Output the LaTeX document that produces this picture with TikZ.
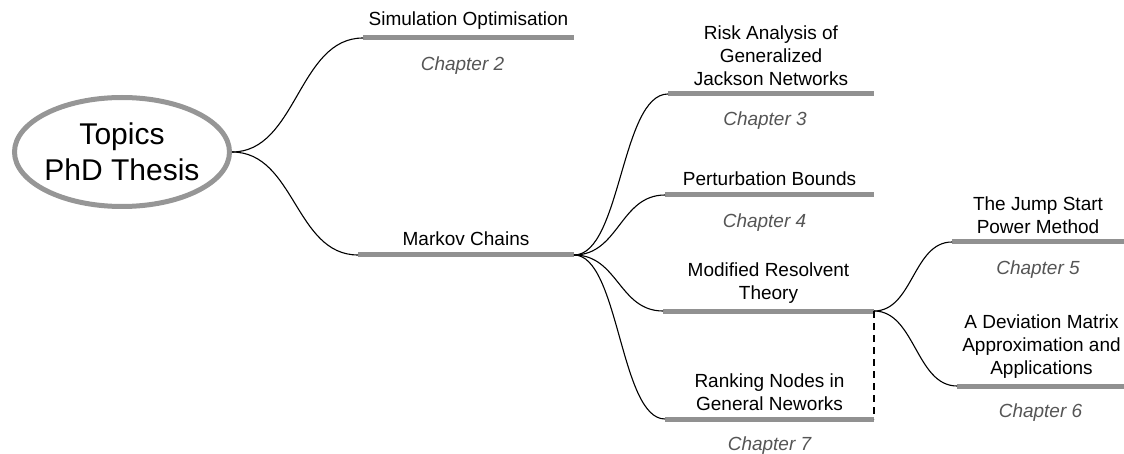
\documentclass[tikz,border=0pt]{standalone}
\usepackage{fontspec}
\setmainfont{Liberation Sans}
\usetikzlibrary{shapes.geometric,calc}
\definecolor{bargray}{RGB}{145,145,145}
\definecolor{ellgray}{RGB}{150,150,150}
\definecolor{chapgray}{RGB}{85,85,85}
\tikzset{
  bar/.style={line width=5pt, draw=bargray},
  conn/.style={draw=black, line width=1.1pt},
  dashline/.style={draw=black, line width=1.1pt, dash pattern=on 7pt off 5pt},
  topic/.style={anchor=south, inner sep=0pt, outer sep=0pt, align=center, font=\fontsize{19}{23}\selectfont},
  chap/.style={anchor=base, inner sep=0pt, outer sep=0pt, text=chapgray, font=\fontsize{19}{23}\selectfont\itshape},
  rootnode/.style={ellipse, draw=ellgray, line width=5pt, minimum width=215pt, minimum height=109pt, inner sep=-5pt, align=center, font=\fontsize{30}{36}\selectfont}
}
\begin{document}
\begin{tikzpicture}[x=1pt,y=-1pt]
\useasboundingbox (0,0) rectangle (1124,454);
% root
\node[rootnode] (root) at (122,152) {Topics\\PhD Thesis};
% bar end points
\coordinate (simL) at (363,38);   \coordinate (simR) at (574,38);
\coordinate (markL) at (358,255); \coordinate (markR) at (574,255);
\coordinate (riskL) at (668,94);  \coordinate (riskR) at (874,94);
\coordinate (pertL) at (665,195); \coordinate (pertR) at (874,195);
\coordinate (modL) at (663,311);  \coordinate (modR) at (874,311);
\coordinate (rankL) at (665,419); \coordinate (rankR) at (874,419);
\coordinate (jumpL) at (952,242); \coordinate (jumpR) at (1124,242);
\coordinate (devL) at (957,386);  \coordinate (devR) at (1124,386);
% bars
\draw[bar] (simL) -- (simR);
\draw[bar] (markL) -- (markR);
\draw[bar] (riskL) -- (riskR);
\draw[bar] (pertL) -- (pertR);
\draw[bar] (modL) -- (modR);
\draw[bar] (rankL) -- (rankR);
\draw[bar] (jumpL) -- (jumpR);
\draw[bar] (devL) -- (devR);
% topic texts
\node[topic] (simT) at ($(simL)!0.5!(simR)+(0,-9)$) {Simulation Optimisation};
\node[topic] (markT) at ($(markL)!0.5!(markR)+(0,-9)$) {Markov Chains};
\node[topic] (riskT) at ($(riskL)!0.5!(riskR)+(0,-8)$) {Risk Analysis of\\Generalized\\Jackson Networks};
\node[topic] (pertT) at ($(pertL)!0.5!(pertR)+(0,-9)$) {Perturbation Bounds};
\node[topic] (modT) at ($(modL)!0.5!(modR)+(0,-8)$) {Modified Resolvent\\Theory};
\node[topic] (rankT) at ($(rankL)!0.5!(rankR)+(0,-8)$) {Ranking Nodes in\\General Neworks};
\node[topic] (jumpT) at ($(jumpL)!0.5!(jumpR)+(0,-8)$) {The Jump Start\\Power Method};
\node[topic] (devT) at ($(devL)!0.5!(devR)+(1,-8)$) {A Deviation Matrix\\Approximation and\\Applications};
% chapter labels
\node[chap] (simC) at ($(simL)!0.5!(simR)+(-6,33)$) {Chapter 2};
\node[chap] (riskC) at ($(riskL)!0.5!(riskR)+(-6,32)$) {Chapter 3};
\node[chap] (pertC) at ($(pertL)!0.5!(pertR)+(-5,33)$) {Chapter 4};
\node[chap] (jumpC) at ($(jumpL)!0.5!(jumpR)+(0,33)$) {Chapter 5};
\node[chap] (devC) at ($(devL)!0.5!(devR)+(0,31)$) {Chapter 6};
\node[chap] (rankC) at ($(rankL)!0.5!(rankR)+(0,31)$) {Chapter 7};
% connectors
\draw[conn] (root.east) .. controls +(65,0) and +(-65,0) .. (simL);
\draw[conn] (root.east) .. controls +(63,0) and +(-63,0) .. (markL);
\draw[conn] (markR) .. controls +(47,0) and +(-47,0) .. (riskL);
\draw[conn] (markR) .. controls +(45,0) and +(-45,0) .. (pertL);
\draw[conn] (markR) .. controls +(44,0) and +(-44,0) .. (modL);
\draw[conn] (markR) .. controls +(45,0) and +(-45,0) .. (rankL);
\draw[conn] (modR) .. controls +(39,0) and +(-39,0) .. (jumpL);
\draw[conn] (modR) .. controls +(41,0) and +(-41,0) .. (devL);
\draw[dashline] (modR) -- (rankR);
\end{tikzpicture}
\end{document}
